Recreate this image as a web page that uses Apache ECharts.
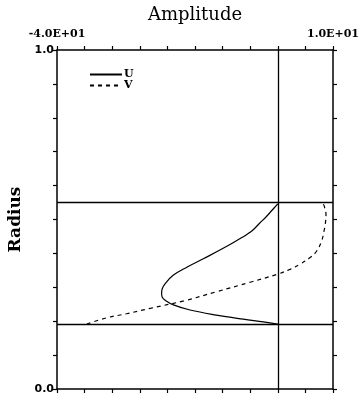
<!DOCTYPE html>
<html>
<head>
<meta charset="utf-8">
<script src="https://cdn.jsdelivr.net/npm/echarts@6/dist/echarts.min.js"></script>
<style>html,body{margin:0;padding:0;background:#fff}#c{width:361px;height:395px}</style>
</head>
<body>
<div id="c"></div>
<script>
// Data
const uRadius = [0.5462,0.528,0.508,0.489,0.469,0.456,0.444,0.415,0.385,0.360,0.336,0.311,0.295,0.282,0.270,0.262,0.248,0.233,0.218,0.206,0.198,0.1916];
const uAmp    = [0,-1.0,-2.1,-3.3,-4.5,-5.6,-6.8,-9.9,-13.4,-16.4,-18.9,-20.4,-20.95,-21.05,-20.9,-20.4,-18.9,-15.9,-11.1,-6.25,-2.6,0];
const vRadius = [0.1916,0.210,0.222,0.238,0.260,0.287,0.315,0.339,0.353,0.368,0.387,0.407,0.437,0.466,0.486,0.515,0.540,0.5462];
const vAmp    = [-34.6,-31.0,-27.4,-23.1,-17.0,-11.1,-5.0,0.0,2.2,4.0,5.8,7.05,7.95,8.37,8.6,8.73,8.4,8.2];
const boundaries = [0.1916, 0.5462];
const zeroLine = [0];
const xTickLabels = {"-40": "-4.0E+01", "10": "1.0E+01"};
const yTickLabels = {"0": "0.0", "1": "1.0"};

const seriesU = uAmp.map((a, i) => [a, uRadius[i]]);
const seriesV = vAmp.map((a, i) => [a, vRadius[i]]);

const chart = echarts.init(document.getElementById('c'));
const axLine = {show: true, onZero: false, lineStyle: {color: '#000', width: 1.5}};
const tick = {show: true, inside: false, length: 4, lineStyle: {color: '#000', width: 1.2}};
const serif = 'DejaVu Serif';
chart.setOption({
  animation: false,
  backgroundColor: '#fff',
  grid: {left: 57, right: 28, top: 50, bottom: 6, containLabel: false, outerBoundsMode: 'none'},
  legend: {
    orient: 'vertical', left: 84, top: 64, itemWidth: 32, itemHeight: 12, itemGap: 0,
    itemStyle: {opacity: 0},
    textStyle: {fontFamily: serif, fontWeight: 'bold', fontSize: 11, color: '#000', padding: [0,0,0,-3]},
    data: ['U', 'V']
  },
  xAxis: [
    {type: 'value', position: 'top', min: -40, max: 10, interval: 5,
     name: 'Amplitude', nameLocation: 'middle', nameGap: 21,
     nameTextStyle: {fontFamily: serif, fontSize: 18, color: '#000'},
     axisLine: axLine, axisTick: tick, splitLine: {show: false},
     axisLabel: {show: true, margin: 10, fontFamily: serif, fontWeight: 'bold', fontSize: 11, color: '#000',
       formatter: v => xTickLabels[String(v)] || ''}},
    {type: 'value', position: 'bottom', min: -40, max: 10, interval: 5,
     axisLine: axLine, axisTick: tick, splitLine: {show: false}, axisLabel: {show: false}}
  ],
  yAxis: [
    {type: 'value', position: 'left', min: 0, max: 1, interval: 0.1,
     name: 'Radius', nameLocation: 'middle', nameGap: 28, nameRotate: 90,
     nameTextStyle: {fontFamily: serif, fontWeight: 'bold', fontSize: 17, color: '#000'},
     axisLine: axLine, axisTick: tick, splitLine: {show: false},
     axisLabel: {show: true, margin: 3, fontFamily: 'DejaVu Sans', fontWeight: 'bold', fontSize: 11, color: '#000',
       formatter: v => yTickLabels[String(Math.round(v * 10) / 10)] || ''}},
    {type: 'value', position: 'right', min: 0, max: 1, interval: 0.1,
     axisLine: axLine, axisTick: tick, splitLine: {show: false}, axisLabel: {show: false}}
  ],
  series: [
    {name: 'U', type: 'line', data: seriesU, smooth: 0.4, symbol: 'none',
     lineStyle: {color: '#000', width: 1.2, type: 'solid'}, itemStyle: {color: '#000'},
     markLine: {silent: true, symbol: 'none', label: {show: false},
       lineStyle: {color: '#000', width: 1.3, type: 'solid'},
       data: boundaries.map(b => ({yAxis: b})).concat(zeroLine.map(z => ({xAxis: z})))}},
    {name: 'V', type: 'line', data: seriesV, smooth: 0.4, symbol: 'none',
     lineStyle: {color: '#000', width: 1.2, type: [4, 4]}, itemStyle: {color: '#000'}}
  ]
});
</script>
</body>
</html>
